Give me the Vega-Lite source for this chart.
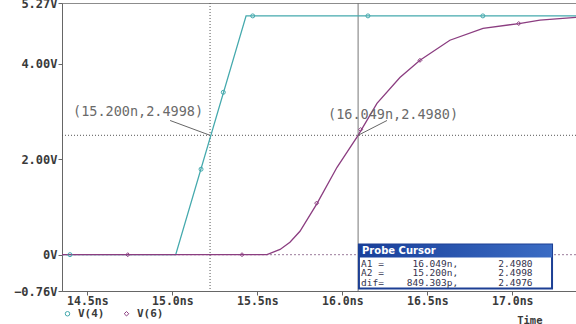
{
  "$schema": "https://vega.github.io/schema/vega-lite/v6.json",
  "width": 514,
  "height": 288,
  "autosize": "none",
  "padding": {"left": 62, "top": 3, "right": 0, "bottom": 33},
  "background": "white",
  "config": {
    "view": {"stroke": "#8c8c8c", "strokeWidth": 1},
    "axis": {"grid": false, "domainColor": "#666666", "tickColor": "#666666", "labelFont": "DejaVu Sans Mono", "labelFontWeight": "bold", "labelFontSize": 12, "labelColor": "#3a3a3a"}
  },
  "datasets": {
    "traces": [
      {"series": "V(4)", "t": 14.351, "v": 0},
      {"series": "V(4)", "t": 15.02, "v": 0},
      {"series": "V(4)", "t": 15.434, "v": 5.0},
      {"series": "V(4)", "t": 17.375, "v": 5.0},
      {"series": "V(6)", "t": 14.351, "v": 0},
      {"series": "V(6)", "t": 15.557, "v": 0},
      {"series": "V(6)", "t": 15.634, "v": 0.11},
      {"series": "V(6)", "t": 15.692, "v": 0.26},
      {"series": "V(6)", "t": 15.751, "v": 0.49},
      {"series": "V(6)", "t": 15.851, "v": 1.07},
      {"series": "V(6)", "t": 15.969, "v": 1.83},
      {"series": "V(6)", "t": 16.093, "v": 2.5},
      {"series": "V(6)", "t": 16.204, "v": 3.17},
      {"series": "V(6)", "t": 16.339, "v": 3.71},
      {"series": "V(6)", "t": 16.457, "v": 4.07},
      {"series": "V(6)", "t": 16.633, "v": 4.49},
      {"series": "V(6)", "t": 16.828, "v": 4.74},
      {"series": "V(6)", "t": 17.04, "v": 4.84},
      {"series": "V(6)", "t": 17.163, "v": 4.91},
      {"series": "V(6)", "t": 17.375, "v": 4.97}
    ],
    "markers": [
      {"series": "V(4)", "t": 14.398, "v": 0},
      {"series": "V(4)", "t": 15.169, "v": 1.79},
      {"series": "V(4)", "t": 15.3, "v": 3.4},
      {"series": "V(4)", "t": 15.473, "v": 5.0},
      {"series": "V(4)", "t": 16.151, "v": 5.0},
      {"series": "V(4)", "t": 16.827, "v": 5.0},
      {"series": "V(6)", "t": 14.738, "v": 0},
      {"series": "V(6)", "t": 15.41, "v": 0},
      {"series": "V(6)", "t": 15.849, "v": 1.08},
      {"series": "V(6)", "t": 16.108, "v": 2.62},
      {"series": "V(6)", "t": 16.457, "v": 4.07},
      {"series": "V(6)", "t": 17.038, "v": 4.84}
    ],
    "labels": [
      {"t": 14.416, "v": 2.98, "text": "(15.200n,2.4998)"},
      {"t": 15.916, "v": 2.917, "text": "(16.049n,2.4980)"}
    ],
    "leaders": [
      {"t": 14.987, "v": 2.81, "t2": 15.222, "v2": 2.4998},
      {"t": 16.093, "v": 2.4998, "t2": 16.263, "v2": 2.81}
    ],
    "probeRows": [
      {"t": 16.11, "v": -0.19, "text": "A1 =\u00a0\u00a0\u00a0\u00a0\u00a016.049n,\u00a0\u00a0\u00a0\u00a0\u00a0\u00a0\u00a02.4980"},
      {"t": 16.11, "v": -0.392, "text": "A2 =\u00a0\u00a0\u00a0\u00a0\u00a015.200n,\u00a0\u00a0\u00a0\u00a0\u00a0\u00a0\u00a02.4998"},
      {"t": 16.11, "v": -0.594, "text": "dif=\u00a0\u00a0\u00a0\u00a0849.303p,\u00a0\u00a0\u00a0\u00a0\u00a0\u00a0\u00a02.4976"}
    ]
  },
  "encoding": {
    "x": {"field": "t", "type": "quantitative", "scale": {"domain": [14.351, 17.375], "nice": false, "zero": false},
      "axis": {"values": [14.5, 15, 15.5, 16, 16.5, 17], "labelExpr": "format(datum.value, '.1f') + 'ns'", "tickSize": 4, "labelPadding": 0, "labelFontSize": 11.5, "title": "Time", "titleFont": "DejaVu Sans Mono", "titleFontWeight": "bold", "titleFontSize": 10.5, "titleColor": "#3a3a3a", "titleAlign": "right", "titleBaseline": "middle", "titleX": 480, "titleY": 29}},
    "y": {"field": "v", "type": "quantitative", "scale": {"domain": [-0.76, 5.27], "nice": false, "zero": false},
      "axis": {"values": [-0.76, 0, 2, 4, 5.27], "labelExpr": "datum.value == 0 ? '0V' : format(datum.value, '.2f') + 'V'", "tickSize": 4, "labelPadding": 1, "title": null}}
  },
  "layer": [
    {"data": {"values": [{"v": 0}]}, "mark": {"type": "rule", "color": "#9a7a9a", "strokeDash": [2, 2], "strokeWidth": 1}, "encoding": {"x": null}},
    {"data": {"values": [{"v": 2.4998}]}, "mark": {"type": "rule", "color": "#555555", "strokeDash": [1, 2], "strokeWidth": 1}, "encoding": {"x": null}},
    {"data": {"values": [{"t": 15.222}]}, "mark": {"type": "rule", "color": "#555555", "strokeDash": [1, 2], "strokeWidth": 1}, "encoding": {"y": null}},
    {"data": {"values": [{"t": 16.093}]}, "mark": {"type": "rule", "color": "#777777", "strokeWidth": 1}, "encoding": {"y": null}},
    {"data": {"name": "traces"}, "transform": [{"filter": "datum.series == 'V(4)'"}], "mark": {"type": "line", "strokeWidth": 1.3, "color": "#44a9ad"}, "encoding": {}},
    {"data": {"name": "traces"}, "transform": [{"filter": "datum.series == 'V(6)'"}], "mark": {"type": "line", "strokeWidth": 1.3, "color": "#8b3d80"}, "encoding": {}},
    {"data": {"name": "markers"}, "mark": {"type": "point", "filled": false, "size": 16, "strokeWidth": 1, "opacity": 1},
      "encoding": {
        "color": {"field": "series", "type": "nominal", "scale": {"domain": ["V(4)", "V(6)"], "range": ["#44a9ad", "#8b3d80"]},
          "legend": {"orient": "none", "legendX": 0, "legendY": 305, "direction": "horizontal", "title": null, "symbolSize": 20, "symbolStrokeWidth": 1, "labelFont": "DejaVu Sans Mono", "labelFontWeight": "bold", "labelFontSize": 11, "labelColor": "#3a3a3a", "columnPadding": 16, "padding": 0, "labelOffset": 5}},
        "shape": {"field": "series", "type": "nominal", "scale": {"domain": ["V(4)", "V(6)"], "range": ["circle", "diamond"]},
          "legend": {"orient": "none", "legendX": 0, "legendY": 305, "direction": "horizontal", "title": null, "symbolSize": 20, "symbolStrokeWidth": 1, "labelFont": "DejaVu Sans Mono", "labelFontWeight": "bold", "labelFontSize": 11, "labelColor": "#3a3a3a", "columnPadding": 16, "padding": 0, "labelOffset": 5}}
      }},
    {"data": {"name": "leaders"}, "mark": {"type": "rule", "color": "#666666", "strokeWidth": 1},
      "encoding": {"x2": {"field": "t2"}, "y2": {"field": "v2"}}},
    {"data": {"name": "labels"}, "mark": {"type": "text", "align": "left", "baseline": "middle", "font": "DejaVu Sans Mono", "fontSize": 13.5, "color": "#6a6a6a"},
      "encoding": {"text": {"field": "text"}}},
    {"data": {"values": [{"t": 16.098, "t2": 17.234, "v": 0.216, "v2": -0.706}]}, "mark": {"type": "rect", "fill": "white", "stroke": "#1c3f94", "strokeWidth": 2},
      "encoding": {"x2": {"field": "t2"}, "y2": {"field": "v2"}}},
    {"data": {"values": [{"t": 16.098, "t2": 17.234, "v": 0.216, "v2": -0.056}]}, "mark": {"type": "rect", "fill": {"gradient": "linear", "x1": 0, "y1": 0, "x2": 1, "y2": 0, "stops": [{"offset": 0, "color": "#183f9a"}, {"offset": 1, "color": "#3b6cc4"}]}},
      "encoding": {"x2": {"field": "t2"}, "y2": {"field": "v2"}}},
    {"data": {"values": [{"t": 16.116, "v": 0.08, "text": "Probe Cursor"}]}, "mark": {"type": "text", "align": "left", "baseline": "middle", "font": "DejaVu Sans", "fontWeight": "bold", "fontSize": 10, "color": "white"},
      "encoding": {"text": {"field": "text"}}},
    {"data": {"name": "probeRows"}, "mark": {"type": "text", "align": "left", "baseline": "middle", "font": "DejaVu Sans Mono", "fontSize": 9.5, "color": "#34344e"},
      "encoding": {"text": {"field": "text"}}}
  ]
}
